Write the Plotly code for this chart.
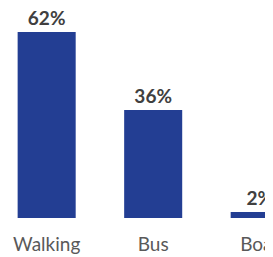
import plotly.graph_objects as go

categories = ["Walking", "Bus", "Boat"]
values = [62, 36, 2]
labels = ["62%", "36%", "2%"]

fig = go.Figure(go.Bar(
    x=categories, y=values, text=labels, textposition="outside",
    marker=dict(color="#233E93", line=dict(width=0)),
    width=0.545, cliponaxis=False,
    textfont=dict(family="Lato", size=19, color="#404040", weight="bold"),
))
fig.update_layout(
    width=273, height=257,
    margin=dict(l=0, r=0, t=20, b=47, autoexpand=False),
    paper_bgcolor="white", plot_bgcolor="white",
    showlegend=False,
    xaxis=dict(range=[-0.363, 2.200], showgrid=False, zeroline=False, showline=False,
               automargin=False, ticks="", ticklabelstandoff=13,
               tickfont=dict(family="Lato", size=19, color="#595959")),
    yaxis=dict(range=[0, 63.33], visible=False, automargin=False),
    uniformtext=dict(mode=False),
)
fig.write_html("out.html")
